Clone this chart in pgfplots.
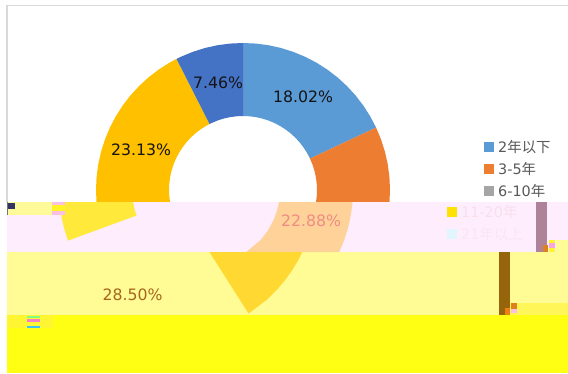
\documentclass[border=0pt]{standalone}
\usepackage{pgfplots}
\pgfplotsset{compat=1.18}
\usepackage{fontspec}
\setmainfont{DejaVu Sans}
\newfontfamily\cjk{Noto Sans CJK SC}
\definecolor{cblue}{HTML}{5B9BD5}
\definecolor{corange}{HTML}{ED7D31}
\definecolor{cgray}{HTML}{A5A5A5}
\definecolor{cgold}{HTML}{FFC000}
\definecolor{cdblue}{HTML}{4472C4}
\definecolor{bandA}{HTML}{FDEDFD}
\definecolor{bandB}{HTML}{FFFC96}
\definecolor{bandC}{HTML}{FFFF14}
\definecolor{wedgeA}{HTML}{FFE93A}
\definecolor{wedgeO}{HTML}{FFD29A}
\definecolor{wedgeB}{HTML}{FFD932}
\definecolor{barA}{HTML}{AE8299}
\definecolor{barB}{HTML}{96640A}
\definecolor{txtA}{HTML}{F08C82}
\definecolor{txtB}{HTML}{A6661E}
\definecolor{faintA}{HTML}{F9DFEC}
\definecolor{faintB}{HTML}{FAE6F2}
\newcommand\bx[5]{\addplot[fill=#5,draw=none,forget plot] coordinates {(#1,#2)(#3,#2)(#3,#4)(#1,#4)} -- cycle;}
\newcommand\lab[4]{\node[text=#4,font=\fontsize{15.7}{18}\selectfont,anchor=center,inner sep=0pt] at (axis cs:#1,#2) {#3};}
\begin{document}
\begin{tikzpicture}
\begin{axis}[scale only axis,width=568pt,height=373pt,xmin=-243,xmax=325,ymin=-183,ymax=190,hide axis,enlargelimits=false,no marks,clip=true]
% background and frame
\bx{-243}{-183}{325}{190}{white}
\addplot[draw=black!15,line width=1.2pt,forget plot] coordinates {(-236,-12)(-236,184.5)(325,184.5)};
% donut, values 18.02 22.88 28.50 23.13 7.46 percent, clockwise from the top (angle, radius)
\addplot[fill=cblue,draw=none,data cs=polar] coordinates {(90,147)(85,147)(80,147)(75,147)(70,147)(65,147)(60,147)(55,147)(50,147)(45,147)(40,147)(35,147)(30,147)(25.13,147)(25.13,74)(30,74)(35,74)(40,74)(45,74)(50,74)(55,74)(60,74)(65,74)(70,74)(75,74)(80,74)(85,74)(90,74)} -- cycle;
\addplot[fill=corange,draw=none,data cs=polar] coordinates {(25.13,147)(20,147)(15,147)(10,147)(5,147)(0,147)(-5,147)(-10,147)(-15,147)(-20,147)(-25,147)(-30,147)(-35,147)(-40,147)(-45,147)(-50,147)(-55,147)(-57.24,147)(-57.24,74)(-55,74)(-50,74)(-45,74)(-40,74)(-35,74)(-30,74)(-25,74)(-20,74)(-15,74)(-10,74)(-5,74)(0,74)(5,74)(10,74)(15,74)(20,74)(25.13,74)} -- cycle;
\addplot[fill=cgray,draw=none,data cs=polar] coordinates {(-57.24,147)(-65,147)(-75,147)(-85,147)(-95,147)(-105,147)(-115,147)(-125,147)(-135,147)(-145,147)(-155,147)(-159.84,147)(-159.84,74)(-155,74)(-145,74)(-135,74)(-125,74)(-115,74)(-105,74)(-95,74)(-85,74)(-75,74)(-65,74)(-57.24,74)} -- cycle;
\addplot[fill=cgold,draw=none,data cs=polar] coordinates {(200.16,147)(195,147)(190,147)(185,147)(180,147)(175,147)(170,147)(165,147)(160,147)(155,147)(150,147)(145,147)(140,147)(135,147)(130,147)(125,147)(120,147)(116.89,147)(116.89,74)(120,74)(125,74)(130,74)(135,74)(140,74)(145,74)(150,74)(155,74)(160,74)(165,74)(170,74)(175,74)(180,74)(185,74)(190,74)(195,74)(200.16,74)} -- cycle;
\addplot[fill=cdblue,draw=none,data cs=polar] coordinates {(116.89,147)(115,147)(110,147)(105,147)(100,147)(95,147)(90,147)(90,74)(95,74)(100,74)(105,74)(110,74)(115,74)(116.89,74)} -- cycle;
% labels in the intact part
\lab{60}{93}{18.02\%}{black!92}
\lab{-25}{107}{7.46\%}{black!92}
\lab{-102}{40}{23.13\%}{black!92}
% legend, intact part
\bx{241}{38}{251}{48}{cblue}
\bx{241}{16}{251}{26}{corange}
\bx{241}{-6}{251}{4}{cgray}
\node[text=black!65,font=\fontsize{14.4}{17}\selectfont,anchor=west,inner sep=0pt] at (axis cs:255,43) {2{\cjk 年以下}};
\node[text=black!65,font=\fontsize{14.4}{17}\selectfont,anchor=west,inner sep=0pt] at (axis cs:255,21) {3-5{\cjk 年}};
\node[text=black!65,font=\fontsize{14.4}{17}\selectfont,anchor=west,inner sep=0pt] at (axis cs:255,-1) {6-10{\cjk 年}};
% shifted, recoloured bands of the damaged lower part
\bx{-236}{-62}{325}{-12}{bandA}
\bx{-236}{-125}{325}{-62}{bandB}
\bx{-236}{-183}{325}{-125}{bandC}
% band A pieces
\addplot[fill=wedgeA,draw=none,forget plot] coordinates {(-183.5,-12)(-182.6,-20)(-180.9,-30)(-178.4,-40)(-175,-50.6)(-106.5,-25.5)(-108.2,-20)(-110,-12)} -- cycle;
\addplot[fill=wedgeO,draw=none,forget plot] coordinates {(36,-12)(34.2,-20)(30.6,-30)(25.3,-40)(17.6,-50)(3.4,-62)(96.3,-62)(101.2,-50)(104.4,-40)(106.9,-30)(108.6,-20)(109.5,-12)} -- cycle;
% band B piece
\addplot[fill=wedgeB,draw=none,forget plot] coordinates {(59.3,-62)(55.3,-70)(49.3,-80)(42.2,-90)(33.7,-100)(23.5,-110)(5.6,-123.6)(-33.6,-62)} -- cycle;
\lab{68}{-31}{22.88\%}{txtA}
\lab{-110.5}{-105}{28.50\%}{txtB}
% faint legend in band A
\bx{204}{-27}{214}{-17}{yellow!85!orange}
\bx{204}{-49}{214}{-39}{cyan!12}
\node[text=faintA,font=\fontsize{14.4}{17}\selectfont,anchor=west,inner sep=0pt] at (axis cs:218,-22) {11-20{\cjk 年}};
\node[text=faintB,font=\fontsize{14.4}{17}\selectfont,anchor=west,inner sep=0pt] at (axis cs:218,-44) {21{\cjk 年以上}};
% stray bars and blocks
\bx{293}{-62}{304}{-12}{barA}
\bx{256}{-125}{267}{-62}{barB}
\bx{313}{-62}{325}{-50}{bandB}
\bx{306}{-62}{312}{-50}{yellow!85!white}
\bx{306}{-58}{312}{-53}{magenta!35!white}
\bx{300}{-62}{305}{-55}{orange!50!brown}
\bx{267}{-125}{325}{-113}{yellow!65!white}
\bx{268}{-119}{274}{-113}{orange!50!brown}
\bx{268}{-123}{274}{-119}{magenta!25!white}
\bx{262}{-125}{267}{-118}{orange!70!brown}
\bx{-235}{-25}{-191}{-12}{yellow!40!white}
\bx{-236}{-25}{-235}{-12}{black!55}
\bx{-235}{-19}{-228}{-13}{black!75!blue!80!white}
\bx{-191}{-25}{-178}{-12}{magenta!25!white}
\bx{-191}{-21}{-178}{-15}{yellow!85!white}
\bx{-235}{-138}{-190}{-125}{yellow!80!white}
\bx{-216}{-128}{-203}{-126}{green!50!white}
\bx{-216}{-132}{-203}{-129}{magenta!50!white}
\bx{-216}{-138}{-203}{-136}{cyan!75!white}
\end{axis}
\end{tikzpicture}
\end{document}
